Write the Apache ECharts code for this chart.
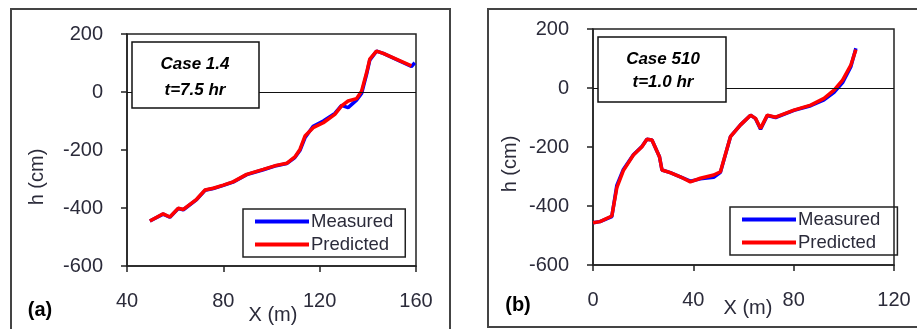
<!DOCTYPE html>
<html>
<head>
<meta charset="utf-8">
<script src="https://cdn.jsdelivr.net/npm/echarts@6/dist/echarts.min.js"></script>
<style>
  html, body { margin: 0; padding: 0; background: #fff; }
  #chart { width: 917px; height: 329px; }
</style>
</head>
<body>
<div id="chart"></div>
<script>
// Case 1.4, t=7.5 hr  -> [x (m), h (cm)]
const measuredA = [
  [49.5, -445], [55, -421], [57.8, -432], [61.3, -402], [63.4, -406], [68.9, -371],
  [72.4, -339], [75.8, -333], [80, -322], [84, -311], [89.7, -285], [96.6, -268],
  [102, -254], [106.3, -247], [109.7, -226], [111.8, -202], [113.9, -158],
  [117.3, -118], [121.5, -100], [126.3, -74], [129.1, -46], [131.8, -54],
  [135.3, -28], [137.4, -5], [139.5, 62], [140.8, 110], [143.6, 141],
  [146.4, 133], [158.1, 88], [159.5, 101]
];
const predictedA = [
  [49.5, -445], [55, -420], [57.8, -431], [61.3, -401], [63.4, -405], [68.9, -370],
  [72.4, -338], [75.8, -332], [80, -321], [84, -310], [89.7, -284], [96.6, -267],
  [102, -253], [106.3, -246], [109.7, -224], [111.8, -198], [113.9, -152],
  [117.3, -123], [121.5, -106], [126.3, -77], [129.1, -48], [131.8, -31],
  [135.3, -23], [137.4, 3], [139.5, 67], [140.8, 113], [143.6, 141],
  [146.4, 133], [158.1, 90]
];

// Case 510, t=1.0 hr
const measuredB = [
  [0, -457], [2.8, -453], [7.5, -436], [9.5, -330], [12.1, -276], [16.1, -226],
  [19.5, -198], [21.5, -174], [23.5, -176], [26.5, -233], [27.5, -278],
  [30.8, -287], [34.8, -301], [38.8, -316], [42.8, -308], [48.1, -303],
  [50.8, -286], [54.8, -165], [58.8, -125], [62.8, -92], [64.8, -104],
  [66.8, -140], [69.5, -93], [72.8, -100], [80.1, -76], [86.8, -60],
  [92.1, -40], [96.1, -15], [99.5, 18], [102.8, 72], [104.8, 135]
];
const predictedB = [
  [0, -457], [2.8, -453], [7.5, -434], [9.5, -338], [12.1, -280], [16.1, -227],
  [19.5, -199], [21.5, -174], [23.5, -176], [26.5, -233], [27.5, -278],
  [30.8, -287], [34.8, -301], [38.8, -318], [42.8, -306], [48.1, -295],
  [50.8, -284], [54.8, -165], [58.8, -125], [62.8, -92], [64.8, -103],
  [66.8, -137], [69.5, -92], [72.8, -99], [80.1, -75], [86.8, -58],
  [92.1, -35], [96.1, -7], [99.5, 27], [102.8, 78], [104.8, 130]
];

const xTicksA = { min: 40, max: 160, interval: 40 };
const xTicksB = { min: 0, max: 120, interval: 40 };
const yTicks = { min: -600, max: 200, interval: 200 };

const font = "Liberation Sans, Arial, sans-serif";
const tickColor = "#2b2b3a";

function xAxisFor(idx, ticks) {
  return {
    type: "value", gridIndex: idx, min: ticks.min, max: ticks.max, interval: ticks.interval,
    axisLine: { show: true, onZero: false, lineStyle: { color: "#222", width: 1.5 } },
    axisTick: { show: true, inside: false, length: 6, lineStyle: { color: "#222", width: 1.5 } },
    axisLabel: { margin: 25, fontSize: 20, color: tickColor, fontFamily: font },
    splitLine: { show: false }
  };
}
function yAxisFor(idx) {
  return {
    type: "value", gridIndex: idx, min: yTicks.min, max: yTicks.max, interval: yTicks.interval,
    axisLine: { show: true, onZero: false, lineStyle: { color: "#222", width: 1.5 } },
    axisTick: { show: true, inside: false, length: 6, lineStyle: { color: "#222", width: 1.5 } },
    axisLabel: { margin: 24, fontSize: 20, color: tickColor, fontFamily: font },
    splitLine: { show: false }
  };
}
function lineSeries(name, data, idx, color, withZero) {
  const s = {
    name: name, type: "line", xAxisIndex: idx, yAxisIndex: idx, data: data,
    showSymbol: false, smooth: false, animation: false,
    lineStyle: { color: color, width: 3.5 }, itemStyle: { color: color }
  };
  if (withZero) {
    s.markLine = {
      silent: true, symbol: "none", label: { show: false },
      lineStyle: { color: "#111", width: 1.2, type: "solid" },
      data: [{ yAxis: 0 }]
    };
  }
  return s;
}
function legendAt(left, top, idx) {
  return {
    left: left, top: top, orient: "vertical", itemGap: 4,
    itemWidth: 54, itemHeight: 4,
    borderColor: "#222", borderWidth: 1.5, padding: [3, 12, 3, 12],
    textStyle: { fontSize: 18.5, color: tickColor, fontFamily: font, padding: [0, 0, 0, -3] },
    data: idx === 0
      ? [{ name: "Measured", icon: "rect" }, { name: "Predicted", icon: "rect" }]
      : [{ name: "Measured ", icon: "rect" }, { name: "Predicted ", icon: "rect" }]
  };
}

const chart = echarts.init(document.getElementById("chart"));
chart.setOption({
  animation: false,
  backgroundColor: "#fff",
  grid: [
    { left: 127, top: 34, width: 289, height: 232, show: true, borderColor: "#222", borderWidth: 1.5, backgroundColor: "transparent" },
    { left: 593, top: 29, width: 301, height: 236, show: true, borderColor: "#222", borderWidth: 1.5, backgroundColor: "transparent" }
  ],
  xAxis: [xAxisFor(0, xTicksA), xAxisFor(1, xTicksB)],
  yAxis: [yAxisFor(0), yAxisFor(1)],
  legend: [legendAt(243, 209, 0), legendAt(730, 207, 1)],
  series: [
    lineSeries("Measured", measuredA, 0, "#0000ff", true),
    lineSeries("Predicted", predictedA, 0, "#ff0000", false),
    lineSeries("Measured ", measuredB, 1, "#0000ff", true),
    lineSeries("Predicted ", predictedB, 1, "#ff0000", false)
  ],
  graphic: [
    // outer panel frames
    { type: "rect", shape: { x: 11, y: 9, width: 439, height: 330 }, style: { fill: "none", stroke: "#444", lineWidth: 2 }, z: 0 },
    { type: "rect", shape: { x: 488, y: 9, width: 440, height: 318 }, style: { fill: "none", stroke: "#444", lineWidth: 2 }, z: 0 },
    // case boxes
    { type: "rect", shape: { x: 132, y: 42, width: 127, height: 66 }, style: { fill: "#fff", stroke: "#111", lineWidth: 1.5 }, z: 10 },
    { type: "text", x: 195, y: 64, z: 11, style: { text: "Case 1.4", font: "italic bold 17px " + font, fill: "#000", align: "center", verticalAlign: "middle" } },
    { type: "text", x: 195, y: 90, z: 11, style: { text: "t=7.5 hr", font: "italic bold 17px " + font, fill: "#000", align: "center", verticalAlign: "middle" } },
    { type: "rect", shape: { x: 598, y: 37, width: 128, height: 65 }, style: { fill: "#fff", stroke: "#111", lineWidth: 1.5 }, z: 10 },
    { type: "text", x: 663, y: 59, z: 11, style: { text: "Case 510", font: "italic bold 17px " + font, fill: "#000", align: "center", verticalAlign: "middle" } },
    { type: "text", x: 663, y: 82, z: 11, style: { text: "t=1.0 hr", font: "italic bold 17px " + font, fill: "#000", align: "center", verticalAlign: "middle" } },
    // axis titles
    { type: "text", x: 273, y: 315, style: { text: "X (m)", font: "20px " + font, fill: tickColor, align: "center", verticalAlign: "middle" } },
    { type: "text", x: 748, y: 308, style: { text: "X (m)", font: "20px " + font, fill: tickColor, align: "center", verticalAlign: "middle" } },
    { type: "text", x: 37, y: 177, rotation: Math.PI / 2, style: { text: "h (cm)", font: "20px " + font, fill: tickColor, align: "center", verticalAlign: "middle" } },
    { type: "text", x: 510, y: 164, rotation: Math.PI / 2, style: { text: "h (cm)", font: "20px " + font, fill: tickColor, align: "center", verticalAlign: "middle" } },
    // panel letters
    { type: "text", x: 40, y: 310, style: { text: "(a)", font: "bold 20px " + font, fill: "#000", align: "center", verticalAlign: "middle" } },
    { type: "text", x: 518, y: 305, style: { text: "(b)", font: "bold 20px " + font, fill: "#000", align: "center", verticalAlign: "middle" } }
  ]
});
</script>
</body>
</html>
